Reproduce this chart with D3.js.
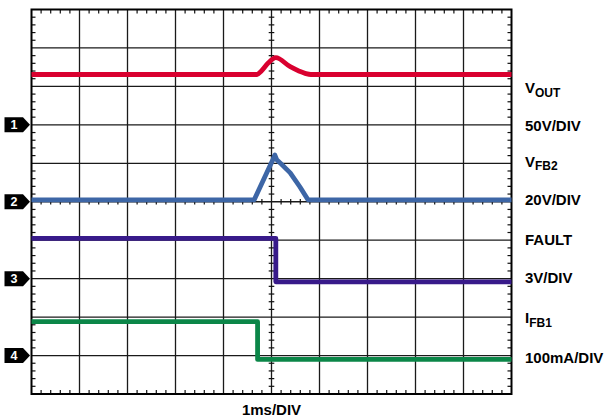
<!DOCTYPE html>
<html>
<head>
<meta charset="utf-8">
<script src="https://cdn.jsdelivr.net/npm/d3@7"></script>
<style>
  html, body { margin: 0; padding: 0; background: #ffffff; }
  svg { display: block; }
  text { font-family: "Liberation Sans", Arial, Helvetica, sans-serif; font-weight: bold; }
</style>
</head>
<body>
<svg id="scope" width="608" height="418"></svg>
<script>
// Time base: 10 divisions at 1 ms/div; vertical: 10 divisions.
const timeDomain = [0, 10];          // ms
const divDomain = [-5, 5];           // divisions

// Channel settings: ground marker position (div) and scale per division
const channelNames = ["1", "2", "3", "4"];
const channelOffsets = [2, 0, -2, -4];      // ground level of each channel, in divisions
const channelPerDiv = [50, 20, 3, 100];     // V, V, V, mA per division

// VOUT (V) vs time (ms)
const voutTime = [0, 4.70, 4.78, 4.93, 5.09, 5.39, 5.70, 5.82, 10];
const voutVal  = [65.5, 65.5, 69.5, 80.4, 87.3, 75.6, 67, 65.5, 65.5];

// VFB2 (V) vs time (ms)
const vfbTime = [0, 4.64, 5.03, 5.07, 5.11, 5.18, 5.39, 5.59, 5.76, 10];
const vfbVal  = [1, 1, 22, 24.3, 21.8, 20.2, 15, 7.8, 1, 1];

// FAULT (V) vs time (ms)
const faultTime = [0, 5.09, 5.09, 10];
const faultVal  = [3.15, 3.15, -0.25, -0.25];

// IFB1 (mA) vs time (ms)
const ifbTime = [0, 4.71, 4.71, 10];
const ifbVal  = [88, 88, -10, -10];

// Right-hand labels: [main, subscript]
const labelMain = ["V", "50V/DIV", "V", "20V/DIV", "FAULT", "3V/DIV", "I", "100mA/DIV"];
const labelSub  = ["OUT", "", "FB2", "", "", "", "FB1", ""];
const timeLabel = "1ms/DIV";

const traceColors = ["#d9002f", "#3d66a6", "#381a8a", "#0b8648"];

const svg = d3.select("#scope");
const plotLeft = 31.5, plotRight = 511.5, plotTop = 9.5, plotBottom = 394;

const x = d3.scaleLinear().domain(timeDomain).range([plotLeft, plotRight]);
const y = d3.scaleLinear().domain(divDomain).range([plotBottom, plotTop]);

const g = svg.append("g");

// Major grid
const majorX = d3.range(timeDomain[0], timeDomain[1] + 1, 1);
const majorY = d3.range(divDomain[0], divDomain[1] + 1, 1);
g.selectAll("line.gx").data(majorX.slice(1, -1)).join("line")
  .attr("x1", d => x(d)).attr("x2", d => x(d))
  .attr("y1", plotTop).attr("y2", plotBottom)
  .attr("stroke", "#1a1a1a").attr("stroke-width", 1.3);
g.selectAll("line.gy").data(majorY.slice(1, -1)).join("line")
  .attr("y1", d => y(d)).attr("y2", d => y(d))
  .attr("x1", plotLeft).attr("x2", plotRight)
  .attr("stroke", "#1a1a1a").attr("stroke-width", 1.3);

// Minor ticks (5 per division) on the frame and the centre axes
const minorX = d3.range(timeDomain[0], timeDomain[1] + 0.001, 0.2).filter(v => Math.abs(v - Math.round(v)) > 0.01);
const minorY = d3.range(divDomain[0], divDomain[1] + 0.001, 0.2).filter(v => Math.abs(v - Math.round(v)) > 0.01);
const tickLen = 4, crossLen = 2.8;
const ticks = [];
minorX.forEach(v => {
  ticks.push([x(v), plotTop, x(v), plotTop + tickLen]);
  ticks.push([x(v), plotBottom, x(v), plotBottom - tickLen]);
  ticks.push([x(v), y(0) - crossLen, x(v), y(0) + crossLen]);
});
minorY.forEach(v => {
  ticks.push([plotLeft, y(v), plotLeft + tickLen, y(v)]);
  ticks.push([plotRight, y(v), plotRight - tickLen, y(v)]);
  ticks.push([x(5) - crossLen, y(v), x(5) + crossLen, y(v)]);
});
g.selectAll("line.tk").data(ticks).join("line")
  .attr("x1", d => d[0]).attr("y1", d => d[1])
  .attr("x2", d => d[2]).attr("y2", d => d[3])
  .attr("stroke", "#111").attr("stroke-width", 1.2);

// Frame
g.append("rect")
  .attr("x", plotLeft).attr("y", plotTop)
  .attr("width", plotRight - plotLeft).attr("height", plotBottom - plotTop)
  .attr("fill", "none").attr("stroke", "#000").attr("stroke-width", 2);

// Traces
const traces = [
  { t: voutTime, v: voutVal, ch: 0, curve: d3.curveMonotoneX },
  { t: vfbTime, v: vfbVal, ch: 1, curve: d3.curveLinear },
  { t: faultTime, v: faultVal, ch: 2, curve: d3.curveLinear },
  { t: ifbTime, v: ifbVal, ch: 3, curve: d3.curveLinear }
];
traces.forEach(tr => {
  const pts = tr.t.map((t, i) => [t, tr.v[i]]);
  const line = d3.line()
    .x(d => x(d[0]))
    .y(d => y(channelOffsets[tr.ch] + d[1] / channelPerDiv[tr.ch]))
    .curve(tr.curve);
  g.append("path").datum(pts)
    .attr("d", line)
    .attr("fill", "none")
    .attr("stroke", traceColors[tr.ch])
    .attr("stroke-width", 4.8)
    .attr("stroke-linejoin", "round");
});

// Channel ground markers
channelNames.forEach((name, i) => {
  const cy = y(channelOffsets[i]);
  const path = d3.path();
  path.moveTo(4.5, cy - 7.5);
  path.lineTo(23, cy - 7.5);
  path.lineTo(30, cy);
  path.lineTo(23, cy + 7.5);
  path.lineTo(4.5, cy + 7.5);
  path.closePath();
  svg.append("path").attr("d", path.toString()).attr("fill", "#000");
  svg.append("text")
    .attr("x", 14).attr("y", cy + 4.5)
    .attr("text-anchor", "middle")
    .attr("font-size", 12.5)
    .attr("fill", "#fff")
    .text(name);
});

// Right-hand channel labels
const labelBaselines = [93, 130.5, 166.5, 204.5, 245, 283, 323, 362.5];
labelMain.forEach((m, i) => {
  const t = svg.append("text")
    .attr("x", 525).attr("y", labelBaselines[i])
    .attr("font-size", 15).attr("fill", "#000");
  t.append("tspan").text(m);
  if (labelSub[i]) {
    t.append("tspan").attr("font-size", 12).attr("dy", 3.5).text(labelSub[i]);
  }
});

// Time base label
svg.append("text")
  .attr("x", x(5)).attr("y", 415)
  .attr("text-anchor", "middle")
  .attr("font-size", 15).attr("fill", "#000")
  .text(timeLabel);
</script>
</body>
</html>
